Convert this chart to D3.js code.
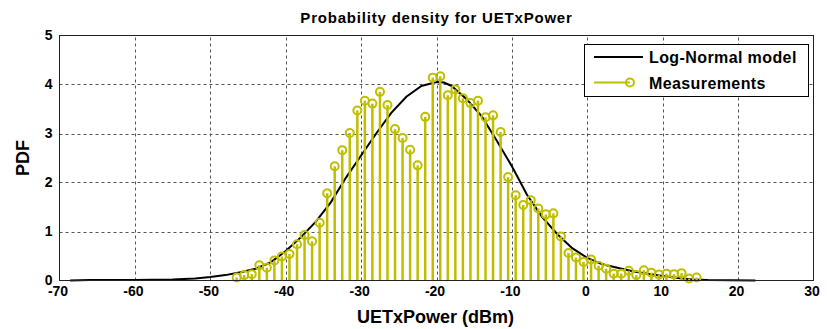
<!DOCTYPE html>
<html>
<head>
<meta charset="utf-8">
<script src="https://cdn.jsdelivr.net/npm/d3@7/dist/d3.min.js"></script>
<style>
  html, body { margin: 0; padding: 0; background: #fff; }
  svg { display: block; }
  text { font-family: "Liberation Sans", Arial, sans-serif; font-weight: bold; fill: #000; }
</style>
</head>
<body>
<svg id="chart" width="827" height="329"></svg>
<script>
// Histogram bin centres (dBm) and measured PDF heights
const binCenters = [
  -46.5, -45.5, -44.5, -43.5, -42.5, -41.5, -40.5, -39.5, -38.5, -37.5,
  -36.5, -35.5, -34.5, -33.5, -32.5, -31.5, -30.5, -29.5, -28.5, -27.5,
  -26.5, -25.5, -24.5, -23.5, -22.5, -21.5, -20.5, -19.5, -18.5, -17.5,
  -16.5, -15.5, -14.5, -13.5, -12.5, -11.5, -10.5, -9.5, -8.5, -7.5,
  -6.5, -5.5, -4.5, -3.5, -2.5, -1.5, -0.5, 0.5, 1.5, 2.5,
  3.5, 4.5, 5.5, 6.5, 7.5, 8.5, 9.5, 10.5, 11.5, 12.5,
  13.5, 14.5
];
const measured = [
  0.06, 0.11, 0.13, 0.31, 0.26, 0.41, 0.49, 0.54, 0.74, 0.93,
  0.80, 1.18, 1.78, 2.33, 2.66, 3.01, 3.47, 3.67, 3.61, 3.85,
  3.58, 3.09, 2.91, 2.67, 2.35, 3.34, 4.14, 4.17, 3.78, 3.90,
  3.72, 3.62, 3.67, 3.33, 3.37, 3.03, 2.11, 1.74, 1.54, 1.64,
  1.47, 1.35, 1.37, 0.90, 0.56, 0.47, 0.38, 0.43, 0.30, 0.24,
  0.14, 0.14, 0.20, 0.11, 0.21, 0.16, 0.12, 0.14, 0.13, 0.15,
  0.04, 0.06
];

// Fitted log-normal model, sampled along the power axis
const modelX = [
  -68.6, -66, -60, -55, -52, -50, -48, -46, -44, -42,
  -40, -38, -36, -34, -32, -30, -28, -26, -24, -22,
  -20, -19, -18, -16, -14, -12, -10, -8, -6, -4,
  -2, 0, 2, 4, 6, 8, 10, 12, 14, 16, 22.3
];
const modelY = [
  0.00, 0.01, 0.01, 0.02, 0.04, 0.07, 0.11, 0.17, 0.24, 0.37,
  0.60, 0.88, 1.20, 1.60, 2.10, 2.55, 3.00, 3.42, 3.75, 3.97,
  4.05, 4.04, 3.97, 3.70, 3.35, 2.85, 2.33, 1.75, 1.30, 0.95,
  0.66, 0.46, 0.33, 0.26, 0.19, 0.14, 0.09, 0.05, 0.02, 0.01, 0.00
];

// Axis ticks
const xTicks = [-70, -60, -50, -40, -30, -20, -10, 0, 10, 20, 30];
const yTicks = [0, 1, 2, 3, 4, 5];

const titleText = "Probability density for UETxPower";
const xLabel = "UETxPower (dBm)";
const yLabel = "PDF";
const legendLabels = ["Log-Normal model", "Measurements"];

const stemColor = "#bfbf00";

const svg = d3.select("#chart");
const x = d3.scaleLinear().domain([-70, 30]).range([59.5, 813.5]);
const y = d3.scaleLinear().domain([0, 5]).range([280.5, 35.5]);

// Plain hyphen-minus tick text
const plain = d => String(d);

// Grid
const grid = svg.append("g").attr("stroke", "#555").attr("stroke-width", 1)
  .attr("stroke-dasharray", "3,3");
grid.selectAll("line.gx").data(xTicks.slice(1, -1)).join("line")
  .attr("x1", d => Math.round(x(d)) + 0.5).attr("x2", d => Math.round(x(d)) + 0.5)
  .attr("y1", y(0)).attr("y2", y(5));
grid.selectAll("line.gy").data(yTicks.slice(1, -1)).join("line")
  .attr("y1", d => Math.round(y(d)) + 0.5).attr("y2", d => Math.round(y(d)) + 0.5)
  .attr("x1", x(-70)).attr("x2", x(30));

// Model curve (drawn beneath the stems)
const line = d3.line().x(d => x(d[0])).y(d => y(d[1]));
svg.append("path")
  .datum(modelX.map((v, i) => [v, modelY[i]]))
  .attr("d", line)
  .attr("fill", "none").attr("stroke", "#000").attr("stroke-width", 2);

// Stems and markers
const pts = binCenters.map((v, i) => [v, measured[i]]);
svg.append("g").selectAll("line").data(pts).join("line")
  .attr("x1", d => x(d[0])).attr("x2", d => x(d[0]))
  .attr("y1", y(0)).attr("y2", d => y(d[1]))
  .attr("stroke", stemColor).attr("stroke-width", 2.5);
svg.append("g").selectAll("circle").data(pts).join("circle")
  .attr("cx", d => x(d[0])).attr("cy", d => y(d[1])).attr("r", 4)
  .attr("fill", "none").attr("stroke", stemColor).attr("stroke-width", 2);

// Axes box
svg.append("rect")
  .attr("x", x(-70)).attr("y", y(5))
  .attr("width", x(30) - x(-70)).attr("height", y(0) - y(5))
  .attr("fill", "none").attr("stroke", "#222").attr("stroke-width", 1);

const xAxis = d3.axisBottom(x).tickValues(xTicks).tickFormat(plain).tickSize(0).tickPadding(6);
const gx = svg.append("g").attr("transform", `translate(0,${y(0)})`).call(xAxis);
gx.select(".domain").remove();
gx.selectAll("text").attr("font-size", 14).attr("font-family", "Liberation Sans, Arial, sans-serif")
  .attr("font-weight", "bold").attr("dx", -2).attr("dy", "0.7em");

const yAxis = d3.axisLeft(y).tickValues(yTicks).tickFormat(plain).tickSize(0).tickPadding(7);
const gy = svg.append("g").attr("transform", `translate(${x(-70)},0)`).call(yAxis);
gy.select(".domain").remove();
gy.selectAll("text").attr("font-size", 14).attr("font-family", "Liberation Sans, Arial, sans-serif")
  .attr("font-weight", "bold").attr("dy", "0.25em");

// Title and axis labels
svg.append("text").attr("x", (x(-70) + x(30)) / 2).attr("y", 23)
  .attr("text-anchor", "middle").attr("font-size", 15).attr("letter-spacing", 0.8)
  .text(titleText);
svg.append("text").attr("x", (x(-70) + x(30)) / 2 - 1).attr("y", 323)
  .attr("text-anchor", "middle").attr("font-size", 18)
  .text(xLabel);
svg.append("text")
  .attr("transform", `translate(29,${(y(0) + y(5)) / 2}) rotate(-90)`)
  .attr("text-anchor", "middle").attr("font-size", 18)
  .text(yLabel);

// Legend
const lg = svg.append("g");
lg.append("rect").attr("x", 584.5).attr("y", 44.5).attr("width", 224).attr("height", 52)
  .attr("fill", "#fff").attr("stroke", "#000").attr("stroke-width", 1);
lg.append("line").attr("x1", 594).attr("x2", 643).attr("y1", 57).attr("y2", 57)
  .attr("stroke", "#000").attr("stroke-width", 2);
lg.append("line").attr("x1", 594).attr("x2", 630).attr("y1", 82.5).attr("y2", 82.5)
  .attr("stroke", stemColor).attr("stroke-width", 2);
lg.append("circle").attr("cx", 630).attr("cy", 82.5).attr("r", 4)
  .attr("fill", "none").attr("stroke", stemColor).attr("stroke-width", 2);
lg.selectAll("text.leg").data(legendLabels).join("text")
  .attr("x", 649).attr("y", (d, i) => 63 + i * 25.5)
  .attr("font-size", 16).attr("letter-spacing", 0.4)
  .text(d => d);
</script>
</body>
</html>
